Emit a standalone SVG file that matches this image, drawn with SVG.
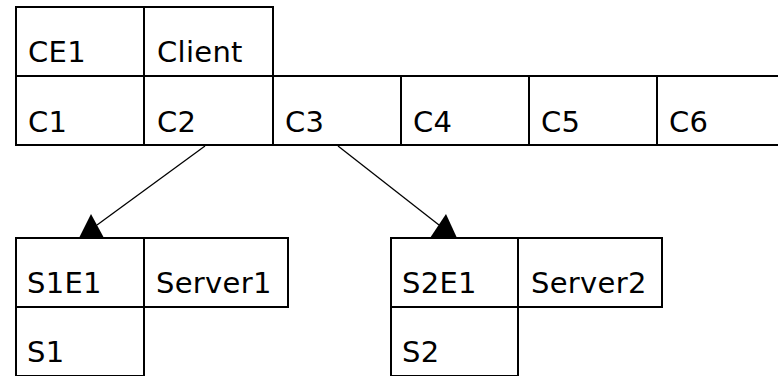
<svg xmlns="http://www.w3.org/2000/svg" width="778" height="376" viewBox="0 0 778 376">
  <style>
    .cell { fill: #ffffff; stroke: #000000; stroke-width: 2; }
    .lbl { font-family: "DejaVu Sans", "Liberation Sans", sans-serif; font-size: 29px; letter-spacing: 0.3px; fill: #000000; }
    .link { stroke: #000000; stroke-width: 1.3; fill: none; }
    .head { fill: #000000; stroke: none; }
  </style>
  <rect width="778" height="376" fill="#ffffff"/>

  <!-- Client record: header row and six slots -->
  <g id="client">
    <rect class="cell" x="16" y="7" width="128" height="69"/>
    <rect class="cell" x="144" y="7" width="129" height="69"/>
    <rect class="cell" x="16" y="76" width="128" height="69"/>
    <rect class="cell" x="144" y="76" width="129" height="69"/>
    <rect class="cell" x="273" y="76" width="128" height="69"/>
    <rect class="cell" x="401" y="76" width="128" height="69"/>
    <rect class="cell" x="529" y="76" width="128" height="69"/>
    <rect class="cell" x="657" y="76" width="128" height="69"/>
    <text class="lbl" x="28" y="62">CE1</text>
    <text class="lbl" x="157" y="62">Client</text>
    <text class="lbl" x="28" y="132">C1</text>
    <text class="lbl" x="157" y="132">C2</text>
    <text class="lbl" x="285" y="132">C3</text>
    <text class="lbl" x="413" y="132">C4</text>
    <text class="lbl" x="541" y="132">C5</text>
    <text class="lbl" x="669" y="132">C6</text>
  </g>

  <!-- Server1 record -->
  <g id="server1">
    <rect class="cell" x="16" y="238" width="128" height="69"/>
    <rect class="cell" x="144" y="238" width="144" height="69"/>
    <rect class="cell" x="16" y="307" width="128" height="69"/>
    <text class="lbl" x="27" y="293">S1E1</text>
    <text class="lbl" x="156" y="293">Server1</text>
    <text class="lbl" x="27" y="362">S1</text>
  </g>

  <!-- Server2 record -->
  <g id="server2">
    <rect class="cell" x="391" y="238" width="127" height="69"/>
    <rect class="cell" x="518" y="238" width="144" height="69"/>
    <rect class="cell" x="391" y="307" width="127" height="69"/>
    <text class="lbl" x="402" y="293">S2E1</text>
    <text class="lbl" x="531" y="293">Server2</text>
    <text class="lbl" x="402" y="362">S2</text>
  </g>

  <!-- Slot pointers -->
  <g id="connectors">
    <line class="link" x1="205" y1="146" x2="97" y2="225"/>
    <polygon class="head" points="91,214 104,238 79,238"/>
    <line class="link" x1="338" y1="146" x2="439" y2="225"/>
    <polygon class="head" points="446,214 457,238 430,238"/>
  </g>
</svg>
